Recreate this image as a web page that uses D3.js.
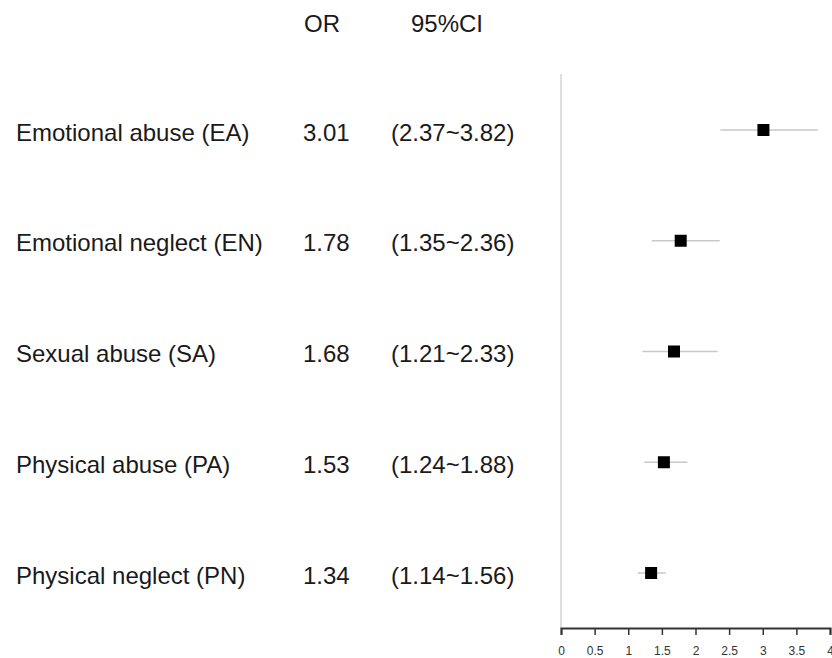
<!DOCTYPE html>
<html>
<head>
<meta charset="utf-8">
<script src="https://cdn.jsdelivr.net/npm/d3@7"></script>
<style>
  html, body { margin: 0; padding: 0; background: #fff; }
  svg text { font-family: "Liberation Sans", Arial, sans-serif; }
</style>
</head>
<body>
<svg id="chart" width="832" height="658"></svg>
<script>
// Forest plot: odds ratios with 95% confidence intervals
const labels = ["Emotional abuse (EA)", "Emotional neglect (EN)", "Sexual abuse (SA)", "Physical abuse (PA)", "Physical neglect (PN)"];
const orValues = [3.01, 1.78, 1.68, 1.53, 1.34];
const ciLow = [2.37, 1.35, 1.21, 1.24, 1.14];
const ciHigh = [3.82, 2.36, 2.33, 1.88, 1.56];
const axisTicks = [0, 0.5, 1, 1.5, 2, 2.5, 3, 3.5, 4];

const svg = d3.select("#chart");

const x = d3.scaleLinear().domain([0, 4]).range([561, 830]);
const y = d3.scalePoint().domain(labels).range([130, 573]);

const fmt = d3.format(".2f");
const fs = 24;
const textColor = "#1a1a1a";

// Column headers
svg.append("text").attr("x", 304).attr("y", 32).attr("font-size", fs).attr("fill", textColor).text("OR");
svg.append("text").attr("x", 411).attr("y", 32).attr("font-size", fs).attr("fill", textColor).text("95%CI");

// Reference line at zero
svg.append("line")
  .attr("x1", x(0)).attr("x2", x(0))
  .attr("y1", 74).attr("y2", 628)
  .attr("stroke", "#d4d4d4").attr("stroke-width", 1.5);

const rows = svg.append("g").selectAll("g")
  .data(labels.map((d, i) => ({ label: d, or: orValues[i], lo: ciLow[i], hi: ciHigh[i] })))
  .join("g");

rows.append("text").attr("x", 16).attr("y", d => y(d.label)).attr("dy", "0.44em")
  .attr("font-size", fs).attr("fill", textColor).text(d => d.label);
rows.append("text").attr("x", 303).attr("y", d => y(d.label)).attr("dy", "0.44em")
  .attr("font-size", fs).attr("fill", textColor).text(d => fmt(d.or));
rows.append("text").attr("x", 391).attr("y", d => y(d.label)).attr("dy", "0.44em")
  .attr("font-size", fs).attr("fill", textColor).text(d => `(${fmt(d.lo)}~${fmt(d.hi)})`);

rows.append("line")
  .attr("x1", d => x(d.lo)).attr("x2", d => x(d.hi))
  .attr("y1", d => y(d.label)).attr("y2", d => y(d.label))
  .attr("stroke", "#c8c8c8").attr("stroke-width", 1.5);

const sq = 12;
rows.append("rect")
  .attr("x", d => x(d.or) - sq / 2).attr("y", d => y(d.label) - sq / 2)
  .attr("width", sq).attr("height", sq)
  .attr("fill", "#000");

// Bottom axis
const axis = svg.append("g").attr("transform", "translate(0,628)")
  .call(d3.axisBottom(x).tickValues(axisTicks).tickSize(7).tickSizeOuter(7).tickFormat(d3.format("")));
axis.select(".domain").attr("stroke", "#333").attr("stroke-width", 2);
axis.selectAll(".tick line").attr("stroke", "#333").attr("stroke-width", 1.5);
axis.selectAll(".tick text").attr("font-size", 12).attr("fill", "#333")
  .attr("font-family", "Liberation Sans, Arial, sans-serif").attr("y", 18.5);
</script>
</body>
</html>
